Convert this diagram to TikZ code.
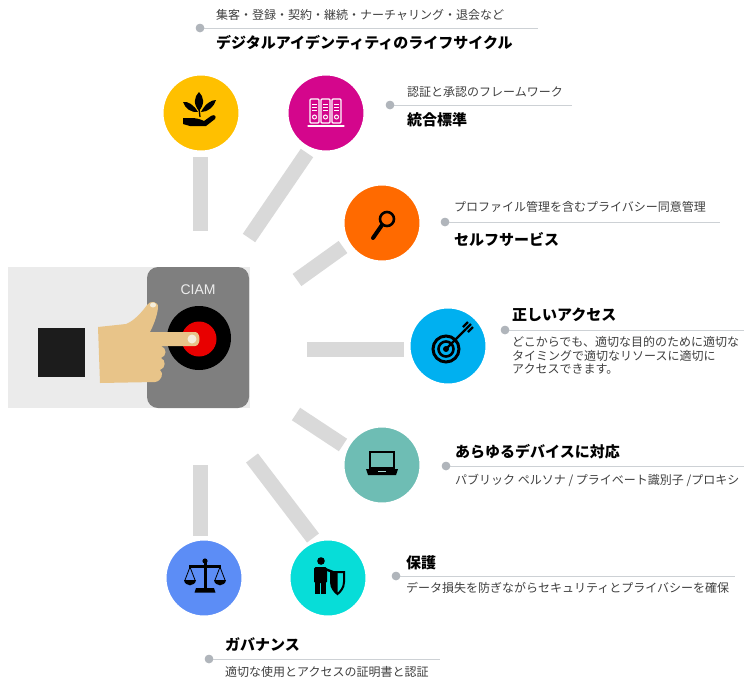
\documentclass[tikz,border=0pt]{standalone}
\usepackage{fontspec}
\setmainfont{Noto Sans CJK JP}
\newfontfamily\latinsans{Liberation Sans}
\usetikzlibrary{calc}

\definecolor{spokegray}{HTML}{D9D9D9}
\definecolor{leadgray}{HTML}{CDD1D5}
\definecolor{dotgray}{HTML}{B0B5BB}
\definecolor{descgray}{HTML}{3F3F3F}
\definecolor{cyellow}{HTML}{FFC000}
\definecolor{cmagenta}{HTML}{D4068C}
\definecolor{corange}{HTML}{FF6A00}
\definecolor{cblue}{HTML}{00B0F0}
\definecolor{cteal}{HTML}{6EBDB4}
\definecolor{ccyan}{HTML}{07DDD8}
\definecolor{cviolet}{HTML}{5C8DF6}
\definecolor{bgimg}{HTML}{EBEBEB}
\definecolor{boxgray}{HTML}{7F7F7F}
\definecolor{skin}{HTML}{E8C489}
\definecolor{nail}{HTML}{F5EEDC}
\definecolor{btnred}{HTML}{E80000}
\definecolor{sqblack}{HTML}{1C1C1C}

\tikzset{
  spoke/.style={draw=spokegray, line width=15pt},
  bubble/.style={circle, minimum size=78pt, inner sep=0pt, draw=white, line width=3pt},
  leader/.style={draw=leadgray, line width=1pt},
  ldot/.style={circle, fill=dotgray, minimum size=8.5pt, inner sep=0pt},
  ttl/.style={anchor=west, inner sep=0pt, text=black, font=\fontsize{15}{16}\selectfont\bfseries},
  dsc/.style={anchor=west, inner sep=0pt, text=descgray, font=\fontsize{12}{13.5}\selectfont},
}

\begin{document}
\begin{tikzpicture}[x=1pt, y=-1pt]
\useasboundingbox (0,0) rectangle (744,678);

% ---------- spokes ----------
\coordinate (s1a) at (200,157); \coordinate (s1b) at (200,231);
\coordinate (s2a) at (249,238); \coordinate (s2b) at (307,153);
\coordinate (s3a) at (297,280); \coordinate (s3b) at (343,247);
\coordinate (s4a) at (307,349); \coordinate (s4b) at (404,349);
\coordinate (s5a) at (296,414); \coordinate (s5b) at (343,445);
\coordinate (s6a) at (252,458); \coordinate (s6b) at (313,538);
\coordinate (s7a) at (200,465); \coordinate (s7b) at (200,536);
\foreach \i in {1,...,7} {\draw[spoke] (s\i a) -- (s\i b);}

% ---------- central picture ----------
\fill[bgimg] (8,267) rectangle (250,408);
\fill[boxgray, rounded corners=11pt] (147,267) rectangle (249,408);
\node[inner sep=0pt, text=white!93!black, font=\latinsans\fontsize{14}{14}\selectfont] (ciam) at (198,290) {CIAM};
\fill[sqblack] (38,328) rectangle (85,377);
\node[circle, fill=black, minimum size=64pt, inner sep=0pt] (btn) at (199,338) {};
\node[circle, fill=btnred, minimum size=35pt, inner sep=0pt] (btncore) at (199,339) {};
% hand pressing the button
\fill[skin] (98,327) -- (126,324)
  .. controls (134,321) and (142,312) .. (147,305)
  .. controls (150,300) and (159,301) .. (158,308)
  .. controls (157,317) and (153,326) .. (150,332)
  -- (195,332)
  .. controls (201,332) and (201,346) .. (195,346)
  -- (161,346)
  .. controls (167,348) and (167,356) .. (161,358)
  .. controls (166,360) and (166,368) .. (160,370)
  .. controls (164,373) and (162,381) .. (155,382)
  -- (100,383) -- cycle;
\fill[nail] (192,339) ellipse (4.5pt and 4.5pt);
\fill[nail] (153,305) ellipse (3pt and 2.5pt);

% ---------- coloured bubbles ----------
\node[bubble, fill=cyellow]  (c1) at (201,113) {};
\node[bubble, fill=cmagenta] (c2) at (326,113) {};
\node[bubble, fill=corange]  (c3) at (382,223) {};
\node[bubble, fill=cblue]    (c4) at (448,346) {};
\node[bubble, fill=cteal]    (c5) at (382,465) {};
\node[bubble, fill=ccyan]    (c6) at (328,578) {};
\node[bubble, fill=cviolet]  (c7) at (204,578) {};

% plant in a hand
\fill[black] (199,111) .. controls (193,104) and (194,97) .. (199,92) .. controls (204,97) and (205,104) .. (199,111) -- cycle;
\fill[black] (198,112) .. controls (194,105) and (188,101) .. (183,102) .. controls (185,108) and (191,113) .. (198,112) -- cycle;
\fill[black] (201,112) .. controls (205,104) and (211,100) .. (216,100) .. controls (214,107) and (208,112) .. (201,112) -- cycle;
\draw[black, line width=1.3pt] (199,108) -- (200,117);
\fill[black] (183,118) -- (191,118) .. controls (196,118) and (200,119) .. (204,121)
  -- (211,116) .. controls (214,114) and (217,116) .. (215,119)
  -- (206,126) -- (190,126) -- (183,124) -- cycle;

% binders
\foreach \bx in {310,321,332} {
  \draw[white, line width=1.2pt, rounded corners=1pt] (\bx,99) rectangle ++(9,24);
  \draw[white, line width=1pt] (\bx+2,104) -- ++(5,0) (\bx+2,107) -- ++(5,0) (\bx+2,110) -- ++(5,0);
  \draw[white, line width=1pt] (\bx+4.5,117) circle (2pt);
}
\draw[white, line width=1.3pt, line cap=round] (308,126) -- (344,126);

% magnifier
\draw[black, line width=2.6pt] (387,219) circle (7pt);
\draw[black, line width=4pt, line cap=round] (382,225) -- (373,238);

% target with arrow
\draw[black, line width=3pt] (446,349) circle (13pt);
\draw[black, line width=2.6pt] (446,349) circle (7.5pt);
\fill[black] (446,349) circle (3pt);
\draw[black, line width=2.4pt] (446,349) -- (466,329);
\draw[black, line width=2.4pt] (463,327) -- (468,322) (468,332) -- (473,327) (466,329) -- (471,324);

% laptop
\draw[black, line width=2.2pt] (370,452) rectangle (394,468);
\fill[black] (366,469) -- (398,469) -- (396,475) -- (368,475) -- cycle;
\fill[cteal!60!white] (378,470.5) rectangle (386,472);

% person with shield
\fill[black] (321,561) circle (3.8pt);
\fill[black, rounded corners=1.5pt] (314,567) rectangle (327,583);
\fill[black] (315,581) rectangle (320,594);
\fill[black] (321,581) rectangle (326,594);
\draw[black, line width=2.4pt, line cap=round] (325,569) -- (333,572);
\draw[black, line width=2pt] (331,572) -- (344,572) -- (344,582)
  .. controls (344,588) and (340,592) .. (337.5,594)
  .. controls (335,592) and (331,588) .. (331,582) -- cycle;
\fill[black] (331,572) -- (337.5,572) -- (337.5,594) .. controls (335,592) and (331,588) .. (331,582) -- cycle;

% scales
\fill[black] (205,561) circle (2.6pt);
\fill[black] (189,565) rectangle (221,567.5);
\fill[black] (203.5,563) rectangle (206.5,589);
\fill[black] (196,588) -- (214,588) -- (215.5,592.5) -- (194.5,592.5) -- cycle;
\draw[black, line width=0.8pt] (190,567) -- (185,580) (190,567) -- (195,580)
  (220,567) -- (215,580) (220,567) -- (225,580);
\fill[black] (184,580) -- (196,580) .. controls (195,587) and (185,587) .. (184,580) -- cycle;
\fill[black] (214,580) -- (226,580) .. controls (225,587) and (215,587) .. (214,580) -- cycle;

% ---------- labels ----------
% lifecycle
\coordinate (e1) at (538,28);
\node[ldot] (d1) at (200,28) {};
\draw[leader] (d1.center) -- (e1);
\node[ldot] at (d1) {};
\node[dsc] (t1a) at (216,15) {集客・登録・契約・継続・ナーチャリング・退会など};
\node[ttl] (t1b) at (216,43) {デジタルアイデンティティのライフサイクル};

% standards
\coordinate (e2) at (572,105);
\node[ldot] (d2) at (390,105) {};
\draw[leader] (d2.center) -- (e2);
\node[ldot] at (d2) {};
\node[dsc] (t2a) at (407,92) {認証と承認のフレームワーク};
\node[ttl] (t2b) at (407,120) {統合標準};

% self service
\coordinate (e3) at (720,222);
\node[ldot] (d3) at (445,222) {};
\draw[leader] (d3.center) -- (e3);
\node[ldot] at (d3) {};
\node[dsc] (t3a) at (454,207) {プロファイル管理を含むプライバシー同意管理};
\node[ttl] (t3b) at (454,239) {セルフサービス};

% right access
\coordinate (e4) at (744,330);
\node[ldot] (d4) at (505,330) {};
\draw[leader] (d4.center) -- (e4);
\node[ldot] at (d4) {};
\node[ttl] (t4b) at (512,315) {正しいアクセス};
\node[anchor=north west, inner sep=0pt, text=descgray, align=left,
      font=\fontsize{12}{13.5}\selectfont] (t4a) at (512,336.5)
  {どこからでも、適切な目的のために適切な\\タイミングで適切なリソースに適切に\\アクセスできます。};

% any device
\coordinate (e5) at (744,466);
\node[ldot] (d5) at (446,466) {};
\draw[leader] (d5.center) -- (e5);
\node[ldot] at (d5) {};
\node[ttl] (t5b) at (455,452) {あらゆるデバイスに対応};
\node[dsc] (t5a) at (455,480) {パブリック ペルソナ / プライベート識別子 /プロキシ};

% protection
\coordinate (e6) at (735,576);
\node[ldot] (d6) at (396,576) {};
\draw[leader] (d6.center) -- (e6);
\node[ldot] at (d6) {};
\node[ttl] (t6b) at (406,563) {保護};
\node[dsc] (t6a) at (406,588) {データ損失を防ぎながらセキュリティとプライバシーを確保};

% governance
\coordinate (e7) at (440,659);
\node[ldot] (d7) at (209,659) {};
\draw[leader] (d7.center) -- (e7);
\node[ldot] at (d7) {};
\node[ttl] (t7b) at (225,645) {ガバナンス};
\node[dsc] (t7a) at (225,672) {適切な使用とアクセスの証明書と認証};

\end{tikzpicture}
\end{document}
